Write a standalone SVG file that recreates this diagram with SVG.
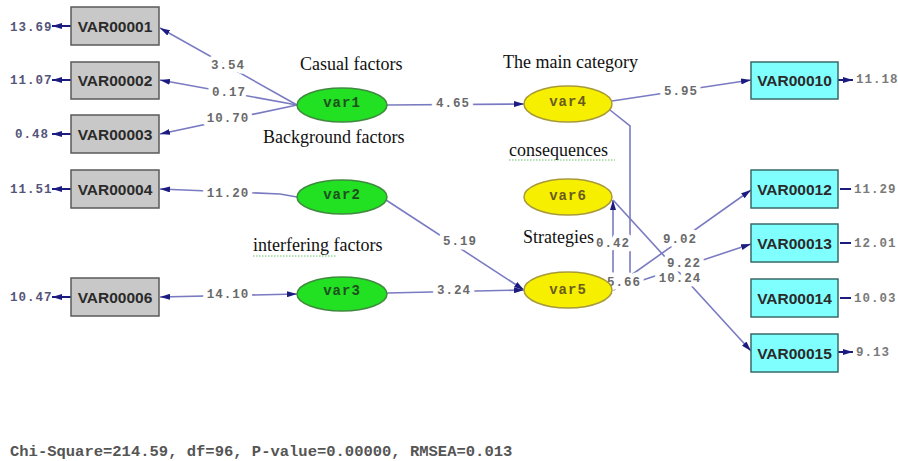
<svg xmlns="http://www.w3.org/2000/svg" width="898" height="461" viewBox="0 0 898 461">
<style>
.bg{fill:#ffffff}
.obs-g rect{fill:#c8c8c8;stroke:#5a5a5a;stroke-width:1.5}
.obs-c rect{fill:#80ffff;stroke:#3a6a6a;stroke-width:1.5}
.bx{font-family:"Liberation Sans",Arial,sans-serif;font-weight:bold;font-size:15.5px;fill:#2a2a2a;text-anchor:middle;dominant-baseline:central}
.lat-g ellipse{fill:#22e022;stroke:#3f8a3f;stroke-width:1.5}
.lat-y ellipse{fill:#f6f000;stroke:#a89a3a;stroke-width:1.5}
.lt{font-family:"Liberation Mono","Courier New",monospace;font-weight:bold;font-size:14px;text-anchor:middle;dominant-baseline:central;letter-spacing:1px}
.lat-g .lt{fill:#1f4f1f}
.lat-y .lt{fill:#6b5b1e}
.ln{fill:none;stroke:#7a7ac2;stroke-width:1.6}
.err{fill:none;stroke:#1c1c80;stroke-width:2}
.num{font-family:"Liberation Mono","Courier New",monospace;font-weight:bold;font-size:12.5px;fill:#6a6a6a;text-anchor:middle;dominant-baseline:central;letter-spacing:1px;stroke:#ffffff;stroke-width:9px;paint-order:stroke;stroke-linejoin:round}
.en{font-family:"Liberation Mono","Courier New",monospace;font-weight:bold;font-size:12.5px;fill:#55557a;dominant-baseline:central;letter-spacing:1px}
.enr{fill:#7a7a7a}
.hd{font-family:"Liberation Serif","Times New Roman",serif;font-size:18px;fill:#111111}
.sq{fill:none;stroke:#6cc06c;stroke-width:1;stroke-dasharray:1.5 1.5}
.chi{font-family:"Liberation Mono","Courier New",monospace;font-weight:bold;font-size:15.5px;fill:#555555}
</style>
<defs>
<marker id="ah" viewBox="0 0 10 6" markerWidth="10" markerHeight="6" markerUnits="userSpaceOnUse" refX="10" refY="3" orient="auto">
<path d="M0,0 L10,3 L0,6 z" fill="#1c1c80"/>
</marker>
<marker id="ahs" viewBox="0 0 10 6" markerWidth="10" markerHeight="6" markerUnits="userSpaceOnUse" refX="10" refY="3" orient="auto-start-reverse">
<path d="M0,0 L10,3 L0,6 z" fill="#1c1c80"/>
</marker>
</defs>
<rect class="bg" x="0" y="0" width="898" height="461"/>

<g id="connectors">
<line class="ln" x1="297" y1="105" x2="160" y2="28" marker-end="url(#ah)"/>
<line class="ln" x1="297" y1="105" x2="160" y2="80" marker-end="url(#ah)"/>
<line class="ln" x1="297" y1="105" x2="160" y2="134" marker-end="url(#ah)"/>
<polyline class="ln" points="297,197 280,194 160,189" marker-end="url(#ah)"/>
<line class="ln" x1="297" y1="294" x2="160" y2="297" marker-start="url(#ahs)" marker-end="url(#ah)"/>
<line class="ln" x1="387" y1="105" x2="524" y2="104" marker-end="url(#ah)"/>
<line class="ln" x1="386" y1="200" x2="524" y2="290" marker-end="url(#ah)"/>
<line class="ln" x1="387" y1="293" x2="524" y2="290" marker-end="url(#ah)"/>
<line class="ln" x1="612" y1="101" x2="751" y2="80" marker-end="url(#ah)"/>
<polyline class="ln" points="610,110 630,126 630,276 613,287"/>
<line class="ln" x1="613" y1="276" x2="613" y2="200" marker-end="url(#ah)"/>
<line class="ln" x1="613" y1="200" x2="751" y2="351" marker-end="url(#ah)"/>
<line class="ln" x1="613" y1="288" x2="751" y2="190" marker-end="url(#ah)"/>
<line class="ln" x1="613" y1="290" x2="751" y2="244" marker-end="url(#ah)"/>
<line class="err" x1="71" y1="26" x2="52" y2="26" marker-end="url(#ah)"/>
<line class="err" x1="71" y1="80" x2="52" y2="80" marker-end="url(#ah)"/>
<line class="err" x1="71" y1="134" x2="52" y2="134" marker-end="url(#ah)"/>
<line class="err" x1="71" y1="189" x2="52" y2="189" marker-end="url(#ah)"/>
<line class="err" x1="71" y1="297" x2="52" y2="297" marker-end="url(#ah)"/>
<line class="err" x1="838" y1="80" x2="853" y2="80" marker-end="url(#ah)"/>
<line class="err" x1="840" y1="189" x2="851" y2="189"/>
<line class="err" x1="840" y1="243" x2="851" y2="243"/>
<line class="err" x1="840" y1="298" x2="851" y2="298"/>
<line class="err" x1="838" y1="352" x2="853" y2="352" marker-end="url(#ah)"/>
<text class="num" x="228" y="66">3.54</text>
<text class="num" x="229" y="93">0.17</text>
<text class="num" x="228" y="119">10.70</text>
<text class="num" x="228" y="194">11.20</text>
<text class="num" x="228" y="295">14.10</text>
<text class="num" x="453" y="104">4.65</text>
<text class="num" x="460" y="242">5.19</text>
<text class="num" x="454" y="291">3.24</text>
<text class="num" x="681" y="92">5.95</text>
<text class="num" x="613" y="244">0.42</text>
<text class="num" x="680" y="240">9.02</text>
<text class="num" x="684" y="264">9.22</text>
<text class="num" x="680" y="279">10.24</text>
<text class="num" x="624" y="283">5.66</text>
</g>

<g id="VAR00001" class="obs-g"><rect x="71" y="7" width="88" height="38"/><text class="bx" x="115" y="26">VAR00001</text><text class="en" x="10" y="28">13.69</text></g>
<g id="VAR00002" class="obs-g"><rect x="71" y="62" width="88" height="37"/><text class="bx" x="115" y="80">VAR00002</text><text class="en" x="10" y="81">11.07</text></g>
<g id="VAR00003" class="obs-g"><rect x="71" y="115" width="88" height="38"/><text class="bx" x="115" y="134">VAR00003</text><text class="en" x="15" y="135">0.48</text></g>
<g id="VAR00004" class="obs-g"><rect x="71" y="170" width="88" height="38"/><text class="bx" x="115" y="189">VAR00004</text><text class="en" x="10" y="190">11.51</text></g>
<g id="VAR00006" class="obs-g"><rect x="71" y="278" width="88" height="38"/><text class="bx" x="115" y="297">VAR00006</text><text class="en" x="10" y="298">10.47</text></g>

<g id="VAR00010" class="obs-c"><rect x="751" y="62" width="87" height="37"/><text class="bx" x="794.5" y="80.5">VAR00010</text><text class="en enr" x="856" y="80">11.18</text></g>
<g id="VAR00012" class="obs-c"><rect x="751" y="170" width="87" height="38"/><text class="bx" x="794.5" y="189">VAR00012</text><text class="en enr" x="854" y="190">11.29</text></g>
<g id="VAR00013" class="obs-c"><rect x="751" y="224" width="87" height="38"/><text class="bx" x="794.5" y="243">VAR00013</text><text class="en enr" x="854" y="244">12.01</text></g>
<g id="VAR00014" class="obs-c"><rect x="751" y="279" width="87" height="38"/><text class="bx" x="794.5" y="298">VAR00014</text><text class="en enr" x="854" y="299">10.03</text></g>
<g id="VAR00015" class="obs-c"><rect x="751" y="334" width="87" height="38"/><text class="bx" x="794.5" y="353">VAR00015</text><text class="en enr" x="856" y="353">9.13</text></g>

<g id="var1" class="lat-g"><ellipse cx="342" cy="105" rx="45" ry="17"/><text class="lt" x="342" y="103">var1</text></g>
<g id="var2" class="lat-g"><ellipse cx="342" cy="197" rx="45" ry="17"/><text class="lt" x="342" y="195">var2</text></g>
<g id="var3" class="lat-g"><ellipse cx="342" cy="294" rx="45" ry="17"/><text class="lt" x="342" y="291">var3</text></g>
<g id="var4" class="lat-y"><ellipse cx="568" cy="104" rx="44" ry="18"/><text class="lt" x="568" y="102">var4</text></g>
<g id="var6" class="lat-y"><ellipse cx="568" cy="197" rx="44" ry="18"/><text class="lt" x="568" y="196">var6</text></g>
<g id="var5" class="lat-y"><ellipse cx="568" cy="290" rx="44" ry="18"/><text class="lt" x="568" y="290">var5</text></g>

<g id="headings">
<text class="hd" x="300" y="70">Casual factors</text>
<text class="hd" x="263" y="143">Background factors</text>
<text class="hd" x="503" y="68">The main category</text>
<text class="hd" x="509" y="156">consequences</text>
<line class="sq" x1="509" y1="160" x2="615" y2="160"/>
<text class="hd" x="523" y="243">Strategies</text>
<text class="hd" x="253" y="251">interfering factors</text>
<line class="sq" x1="253" y1="256" x2="337" y2="256"/>
</g>

<text class="chi" x="10" y="456">Chi-Square=214.59, df=96, P-value=0.00000, RMSEA=0.013</text>
</svg>
